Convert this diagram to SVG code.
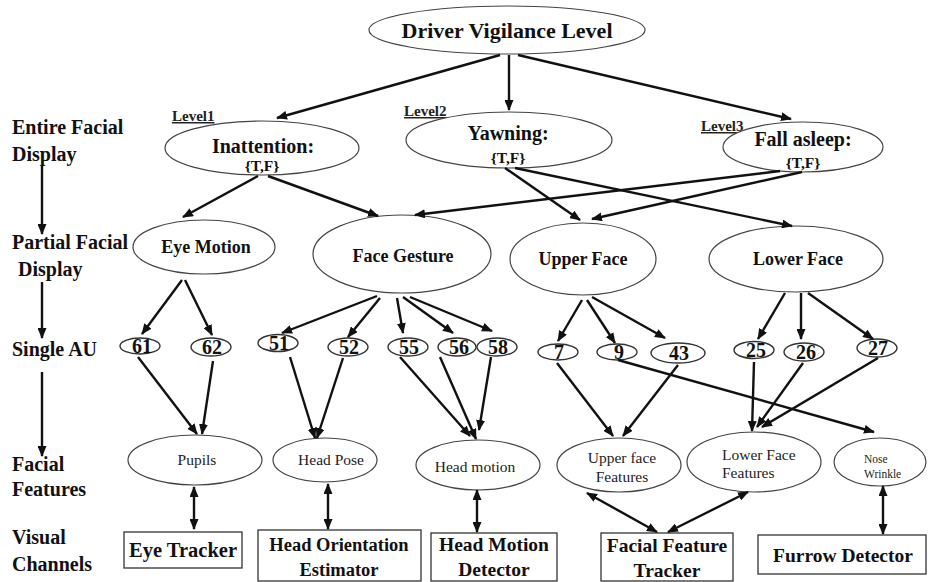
<svg xmlns="http://www.w3.org/2000/svg" width="928" height="582" viewBox="0 0 928 582" font-family="Liberation Serif, 'Times New Roman', Times, 'DejaVu Serif', serif">
<style>
.n{fill:#fff;stroke:#444;stroke-width:1.2}
.au{fill:#fff;stroke:#333;stroke-width:1.4}
.b{fill:#fff;stroke:#333;stroke-width:1.3}
.t{font-weight:bold;fill:#111;text-anchor:middle}
.f{fill:#222;text-anchor:middle;font-size:15.5px}
.l{font-weight:bold;fill:#111;font-size:20px}
.lv{font-weight:bold;fill:#222;font-size:15px;text-decoration:underline}
.c line{stroke:#111;stroke-width:2.4;marker-end:url(#ah)}
.c line.d{marker-start:url(#ah)}
</style>
<defs>
<marker id="ah" markerUnits="userSpaceOnUse" markerWidth="11" markerHeight="9" refX="10" refY="4.5" orient="auto-start-reverse">
<path d="M0,0 L11,4.5 L0,9 z" fill="#111"/>
</marker>
</defs>

<g id="labels">
<text class="l" x="12" y="134">Entire Facial</text>
<text class="l" x="12" y="161">Display</text>
<text class="l" x="12" y="249">Partial Facial</text>
<text class="l" x="18" y="276">Display</text>
<text class="l" x="12" y="356">Single AU</text>
<text class="l" x="12" y="471">Facial</text>
<text class="l" x="12" y="496">Features</text>
<text class="l" x="12" y="544">Visual</text>
<text class="l" x="12" y="571">Channels</text>
</g>

<g id="n-vigilance"><ellipse class="n" cx="507" cy="30" rx="138" ry="24"/><text class="t" x="507" y="38" font-size="22">Driver Vigilance Level</text></g>

<g id="n-inattention"><text class="lv" x="172" y="121">Level1</text><ellipse class="n" cx="262" cy="148" rx="97" ry="27"/><text class="t" x="263" y="153" font-size="20">Inattention:</text><text class="t" x="262" y="171" font-size="15.5">{T,F}</text></g>
<g id="n-yawning"><text class="lv" x="404" y="116">Level2</text><ellipse class="n" cx="509" cy="140" rx="103" ry="28"/><text class="t" x="508" y="140" font-size="20">Yawning:</text><text class="t" x="508" y="163" font-size="15.5">{T,F}</text></g>
<g id="n-fallasleep"><text class="lv" x="701" y="131">Level3</text><ellipse class="n" cx="803" cy="147" rx="80" ry="25"/><text class="t" x="803" y="146" font-size="20">Fall asleep:</text><text class="t" x="803" y="168" font-size="15.5">{T,F}</text></g>

<g id="n-eyemotion"><ellipse class="n" cx="204" cy="247" rx="71" ry="27"/><text class="t" x="206" y="253" font-size="18">Eye Motion</text></g>
<g id="n-facegesture"><ellipse class="n" cx="402" cy="254" rx="89" ry="39"/><text class="t" x="403" y="262" font-size="18">Face Gesture</text></g>
<g id="n-upperface"><ellipse class="n" cx="583" cy="259" rx="73" ry="36"/><text class="t" x="583" y="265" font-size="18">Upper Face</text></g>
<g id="n-lowerface"><ellipse class="n" cx="796" cy="259" rx="87" ry="33"/><text class="t" x="798" y="265" font-size="18">Lower Face</text></g>

<g id="au-61"><ellipse class="au" cx="140" cy="346" rx="20" ry="8"/><text class="t" x="142" y="353" font-size="20">61</text></g>
<g id="au-62"><ellipse class="au" cx="211" cy="347" rx="20" ry="9"/><text class="t" x="212" y="354" font-size="20">62</text></g>
<g id="au-51"><ellipse class="au" cx="278" cy="343" rx="20" ry="8.5"/><text class="t" x="279" y="350" font-size="20">51</text></g>
<g id="au-52"><ellipse class="au" cx="348" cy="347" rx="20" ry="9"/><text class="t" x="349" y="354" font-size="20">52</text></g>
<g id="au-55"><ellipse class="au" cx="408" cy="347" rx="20" ry="9"/><text class="t" x="409" y="354" font-size="20">55</text></g>
<g id="au-56"><ellipse class="au" cx="457" cy="347" rx="19" ry="9"/><text class="t" x="459" y="354" font-size="20">56</text></g>
<g id="au-58"><ellipse class="au" cx="497" cy="347" rx="20" ry="9"/><text class="t" x="498" y="354" font-size="20">58</text></g>
<g id="au-7"><ellipse class="au" cx="558" cy="352" rx="20" ry="8"/><text class="t" x="559" y="359" font-size="20">7</text></g>
<g id="au-9"><ellipse class="au" cx="617" cy="352" rx="20" ry="8"/><text class="t" x="619" y="359" font-size="20">9</text></g>
<g id="au-43"><ellipse class="au" cx="678" cy="353" rx="27" ry="10"/><text class="t" x="679" y="360" font-size="20">43</text></g>
<g id="au-25"><ellipse class="au" cx="754" cy="350" rx="20" ry="8.5"/><text class="t" x="756" y="357" font-size="20">25</text></g>
<g id="au-26"><ellipse class="au" cx="804" cy="352" rx="20" ry="9"/><text class="t" x="806" y="359" font-size="20">26</text></g>
<g id="au-27"><ellipse class="au" cx="877" cy="348" rx="20" ry="9"/><text class="t" x="878" y="355" font-size="20">27</text></g>

<g id="f-pupils"><ellipse class="n" cx="195" cy="460" rx="67" ry="25"/><text class="f" x="197" y="465">Pupils</text></g>
<g id="f-headpose"><ellipse class="n" cx="325" cy="460" rx="52" ry="22"/><text class="f" x="331" y="465">Head Pose</text></g>
<g id="f-headmotion"><ellipse class="n" cx="478" cy="465" rx="62" ry="25"/><text class="f" x="475" y="472">Head motion</text></g>
<g id="f-upperfeatures"><ellipse class="n" cx="619" cy="465" rx="62" ry="27"/><text class="f" x="622" y="463">Upper face</text><text class="f" x="622" y="482">Features</text></g>
<g id="f-lowerfeatures"><ellipse class="n" cx="754" cy="462" rx="67" ry="30"/><text class="f" x="722" y="460" style="text-anchor:start">Lower Face</text><text class="f" x="722" y="478" style="text-anchor:start">Features</text></g>
<g id="f-nosewrinkle"><ellipse class="n" cx="880" cy="462" rx="46" ry="24"/><text class="f" x="864" y="463" style="text-anchor:start;font-size:11.5px">Nose</text><text class="f" x="864" y="478" style="text-anchor:start;font-size:11.5px">Wrinkle</text></g>

<g id="v-eyetracker"><rect class="b" x="124" y="532" width="118" height="36"/><text class="t" x="183" y="557" font-size="20.5">Eye Tracker</text></g>
<g id="v-headorientation"><rect class="b" x="258" y="530" width="163" height="51"/><text class="t" x="339" y="551" font-size="18.5">Head Orientation</text><text class="t" x="339" y="576" font-size="18.5">Estimator</text></g>
<g id="v-headmotion"><rect class="b" x="431" y="533" width="126" height="48"/><text class="t" x="494" y="551" font-size="19.5">Head Motion</text><text class="t" x="494" y="576" font-size="19.5">Detector</text></g>
<g id="v-facialtracker"><rect class="b" x="601" y="533" width="132" height="48"/><text class="t" x="667" y="552" font-size="19.5">Facial Feature</text><text class="t" x="667" y="577" font-size="19.5">Tracker</text></g>
<g id="v-furrow"><rect class="b" x="758" y="535" width="168" height="39"/><text class="t" x="843" y="562" font-size="19.5">Furrow Detector</text></g>

<g id="connectors" class="c">
<line x1="42" y1="165" x2="42" y2="234"/>
<line x1="42" y1="282" x2="42" y2="338"/>
<line x1="42" y1="372" x2="42" y2="456"/>

<line x1="500" y1="55" x2="277" y2="118"/>
<line x1="509" y1="55" x2="509" y2="110"/>
<line x1="518" y1="55" x2="791" y2="119"/>

<line x1="258" y1="176" x2="183" y2="217"/>
<line x1="268" y1="176" x2="378" y2="216"/>
<line x1="505" y1="168" x2="580" y2="220"/>
<line x1="515" y1="168" x2="792" y2="226"/>
<line x1="780" y1="171" x2="415" y2="215"/>
<line x1="802" y1="172" x2="592" y2="219"/>

<line x1="182" y1="280" x2="142" y2="334"/>
<line x1="185" y1="280" x2="212" y2="335"/>
<line x1="377" y1="296" x2="282" y2="333"/>
<line x1="380" y1="298" x2="348" y2="337"/>
<line x1="397" y1="298" x2="403" y2="333"/>
<line x1="403" y1="297" x2="453" y2="333"/>
<line x1="410" y1="297" x2="492" y2="331"/>
<line x1="582" y1="300" x2="558" y2="341"/>
<line x1="587" y1="300" x2="615" y2="343"/>
<line x1="592" y1="297" x2="665" y2="338"/>
<line x1="785" y1="293" x2="758" y2="339"/>
<line x1="801" y1="293" x2="801" y2="339"/>
<line x1="808" y1="293" x2="873" y2="339"/>

<line x1="138" y1="357" x2="197" y2="434"/>
<line x1="213" y1="361" x2="202" y2="434"/>
<line x1="290" y1="357" x2="315" y2="438"/>
<line x1="343" y1="358" x2="317" y2="438"/>
<line x1="400" y1="357" x2="470" y2="436"/>
<line x1="440" y1="357" x2="476" y2="439"/>
<line x1="491" y1="357" x2="479" y2="430"/>
<line x1="557" y1="363" x2="613" y2="436"/>
<line x1="678" y1="365" x2="623" y2="436"/>
<line x1="618" y1="360" x2="874" y2="432"/>
<line x1="754" y1="362" x2="752" y2="431"/>
<line x1="803" y1="363" x2="757" y2="427"/>
<line x1="878" y1="358" x2="762" y2="427"/>

<line class="d" x1="194" y1="487" x2="194" y2="529"/>
<line class="d" x1="328" y1="484" x2="328" y2="529"/>
<line class="d" x1="477" y1="490" x2="477" y2="532"/>
<line class="d" x1="587" y1="493" x2="657" y2="532"/>
<line class="d" x1="748" y1="492" x2="668" y2="532"/>
<line class="d" x1="883" y1="486" x2="883" y2="534"/>
</g>
</svg>
